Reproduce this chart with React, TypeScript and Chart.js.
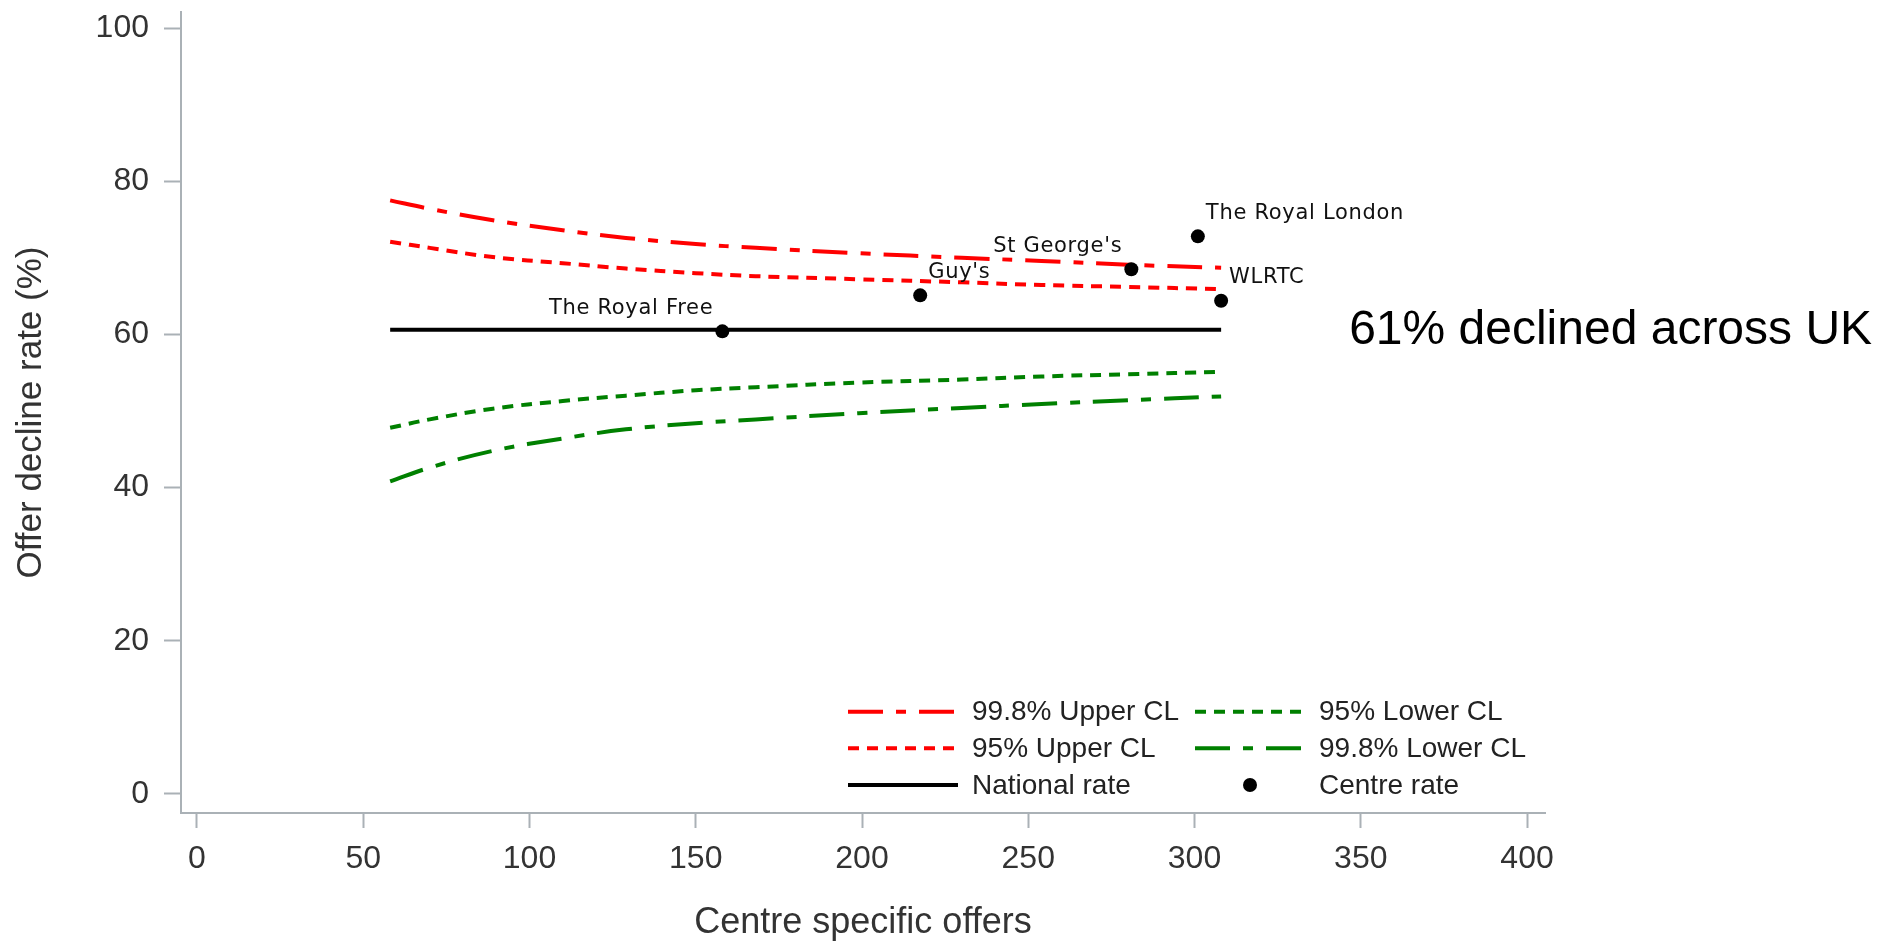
import React, { useEffect, useRef } from "react";
import { Chart, registerables } from "chart.js";

Chart.register(...registerables);

// ---- data ----
const X_TICKS = [0, 50, 100, 150, 200, 250, 300, 350, 400];
const Y_TICKS = [0, 20, 40, 60, 80, 100];

const LIMIT_X = [58.1, 70, 89, 110, 129, 150, 168, 199, 230, 254, 280, 308];
const UPPER_998 = [77.5, 76.4, 74.9, 73.6, 72.6, 71.8, 71.3, 70.6, 70.0, 69.6, 69.1, 68.7];
const UPPER_95 = [72.1, 71.3, 70.1, 69.3, 68.6, 68.0, 67.6, 67.2, 66.8, 66.45, 66.2, 65.9];
const LOWER_95 = [47.8, 48.9, 50.3, 51.3, 52.0, 52.7, 53.1, 53.7, 54.1, 54.5, 54.8, 55.1];
const LOWER_998 = [40.8, 42.6, 44.8, 46.4, 47.6, 48.4, 48.9, 49.7, 50.4, 50.9, 51.4, 51.9];

const NATIONAL_X = [58.1, 308];
const NATIONAL_RATE = 60.6;

const CENTRE_NAMES = ["The Royal Free", "Guy's", "St George's", "The Royal London", "WLRTC"];
const CENTRE_OFFERS = [158, 217.5, 281, 301, 308];
const CENTRE_RATES = [60.4, 65.1, 68.5, 72.8, 64.4];
const CENTRE_LABEL_SIDE = ["left", "right", "left", "right", "right"];

const ANNOTATION_TEXT = "61% declined across UK";
const ANNOTATION_X = 346.5;

const LEGEND_ROWS = [
  ["99.8% Upper CL", "95% Lower CL"],
  ["95% Upper CL", "99.8% Lower CL"],
  ["National rate", "Centre rate"],
];

// ---- styles ----
const FONT = "'Liberation Sans', Arial, sans-serif";
const AXIS_COLOR = "#aab1b6";
const TEXT_COLOR = "#333333";
const RED = "#ff0000";
const GREEN = "#008000";
const DASH_DOT = [35, 13, 10, 13];
const DOTTED = [11, 8];

const toXY = (xs: number[], ys: number[]) => xs.map((x, i) => ({ x, y: ys[i] }));

const overlayPlugin = {
  id: "overlay",
  afterDatasetsDraw(chart: any) {
    const { ctx, chartArea } = chart;
    const xs = chart.scales.x;
    const ys = chart.scales.y;
    ctx.save();

    // centre labels
    ctx.font = "21px 'DejaVu Sans', sans-serif";
    (ctx as any).letterSpacing = "0.7px";
    ctx.fillStyle = "#111111";
    ctx.textBaseline = "middle";
    CENTRE_NAMES.forEach((name, i) => {
      const px = xs.getPixelForValue(CENTRE_OFFERS[i]);
      const py = ys.getPixelForValue(CENTRE_RATES[i]);
      const side = CENTRE_LABEL_SIDE[i];
      ctx.textAlign = side === "left" ? "right" : "left";
      ctx.fillText(name, side === "left" ? px - 9 : px + 8, py - 23);
    });
    (ctx as any).letterSpacing = "0px";

    // annotation text
    ctx.font = `48px ${FONT}`;
    ctx.fillStyle = "#000000";
    ctx.textAlign = "left";
    ctx.textBaseline = "middle";
    ctx.fillText(ANNOTATION_TEXT, xs.getPixelForValue(ANNOTATION_X), ys.getPixelForValue(NATIONAL_RATE) + 1);

    // legend
    const colX = [chartArea.right - 697, chartArea.right - 350];
    const rowY = [chartArea.bottom - 101.3, chartArea.bottom - 64.7, chartArea.bottom - 28];
    const lineLen = 110;
    LEGEND_ROWS.forEach((row, r) => {
      row.forEach((label, c) => {
        const ds = chart.data.datasets.find((d: any) => d.label === label);
        if (!ds) return;
        const x0 = colX[c];
        const y0 = rowY[r];
        if (ds.showLine === false) {
          ctx.beginPath();
          ctx.fillStyle = ds.backgroundColor;
          ctx.arc(x0 + lineLen / 2, y0, 7, 0, Math.PI * 2);
          ctx.fill();
        } else {
          ctx.beginPath();
          ctx.setLineDash(ds.borderDash || []);
          ctx.lineDashOffset = 0;
          ctx.strokeStyle = ds.borderColor;
          ctx.lineWidth = ds.borderWidth;
          ctx.moveTo(x0, y0);
          ctx.lineTo(x0 + lineLen, y0);
          ctx.stroke();
          ctx.setLineDash([]);
        }
        ctx.font = `28px ${FONT}`;
        ctx.fillStyle = "#222222";
        ctx.textAlign = "left";
        ctx.textBaseline = "middle";
        ctx.fillText(label, x0 + 124, y0 + 1);
      });
    });
    ctx.restore();
  },
};

export default function App() {
  const canvasRef = useRef<HTMLCanvasElement | null>(null);

  useEffect(() => {
    if (!canvasRef.current) return;
    const lineDs = (label: string, ys: number[], color: string, dash: number[]) => ({
      label,
      data: toXY(LIMIT_X, ys),
      borderColor: color,
      backgroundColor: color,
      borderWidth: 4,
      borderDash: dash,
      pointRadius: 0,
      tension: 0.4,
      fill: false,
    });

    const chart = new Chart(canvasRef.current, {
      type: "line",
      data: {
        datasets: [
          {
            label: "Centre rate",
            data: toXY(CENTRE_OFFERS, CENTRE_RATES),
            showLine: false,
            pointRadius: 7,
            pointHoverRadius: 7,
            backgroundColor: "#000000",
            borderColor: "#000000",
            borderWidth: 0,
          },
          {
            label: "National rate",
            data: NATIONAL_X.map((x) => ({ x, y: NATIONAL_RATE })),
            borderColor: "#000000",
            backgroundColor: "#000000",
            borderWidth: 4,
            pointRadius: 0,
            fill: false,
          },
          lineDs("99.8% Upper CL", UPPER_998, RED, DASH_DOT),
          lineDs("95% Upper CL", UPPER_95, RED, DOTTED),
          lineDs("95% Lower CL", LOWER_95, GREEN, DOTTED),
          lineDs("99.8% Lower CL", LOWER_998, GREEN, DASH_DOT),
        ] as any,
      },
      options: {
        responsive: true,
        maintainAspectRatio: false,
        animation: false,
        layout: { padding: { left: 0, top: 12, right: 332, bottom: 0 } },
        plugins: {
          legend: { display: false },
          tooltip: { enabled: false },
        },
        scales: {
          x: {
            type: "linear",
            min: -4.8,
            max: 405.4,
            afterBuildTicks: (s: any) => {
              s.ticks = X_TICKS.map((v) => ({ value: v }));
            },
            afterFit: (s: any) => {
              s.height = 129;
              s.paddingLeft = 0;
              s.paddingRight = 0;
            },
            grid: {
              display: true,
              drawOnChartArea: false,
              drawTicks: true,
              tickLength: 15,
              tickColor: AXIS_COLOR,
              tickWidth: 2,
            },
            border: { display: true, color: AXIS_COLOR, width: 2 },
            ticks: {
              font: { family: FONT, size: 32 },
              color: TEXT_COLOR,
              padding: 12,
              autoSkip: false,
              maxRotation: 0,
            },
            title: {
              display: true,
              text: "Centre specific offers",
              font: { family: FONT, size: 36, lineHeight: 1.05 },
              color: TEXT_COLOR,
              padding: { top: 0, bottom: 0 },
            },
          },
          y: {
            type: "linear",
            min: -2.5,
            max: 102.1,
            afterBuildTicks: (s: any) => {
              s.ticks = Y_TICKS.map((v) => ({ value: v }));
            },
            afterFit: (s: any) => {
              s.width = 181;
              s.paddingTop = 0;
              s.paddingBottom = 0;
            },
            grid: {
              display: true,
              drawOnChartArea: false,
              drawTicks: true,
              tickLength: 17,
              tickColor: AXIS_COLOR,
              tickWidth: 2,
            },
            border: { display: true, color: AXIS_COLOR, width: 2 },
            ticks: {
              font: { family: FONT, size: 32 },
              color: TEXT_COLOR,
              padding: 15,
              autoSkip: false,
            },
            title: {
              display: true,
              text: "Offer decline rate (%)",
              font: { family: FONT, size: 35, lineHeight: 1.2 },
              color: TEXT_COLOR,
              padding: { top: 10, bottom: 0 },
            },
          },
        },
      } as any,
      plugins: [overlayPlugin],
    });
    return () => chart.destroy();
  }, []);

  return (
    <div style={{ position: "fixed", left: 0, top: 0, width: 1877, height: 942, background: "#ffffff" }}>
      <canvas ref={canvasRef} />
    </div>
  );
}
